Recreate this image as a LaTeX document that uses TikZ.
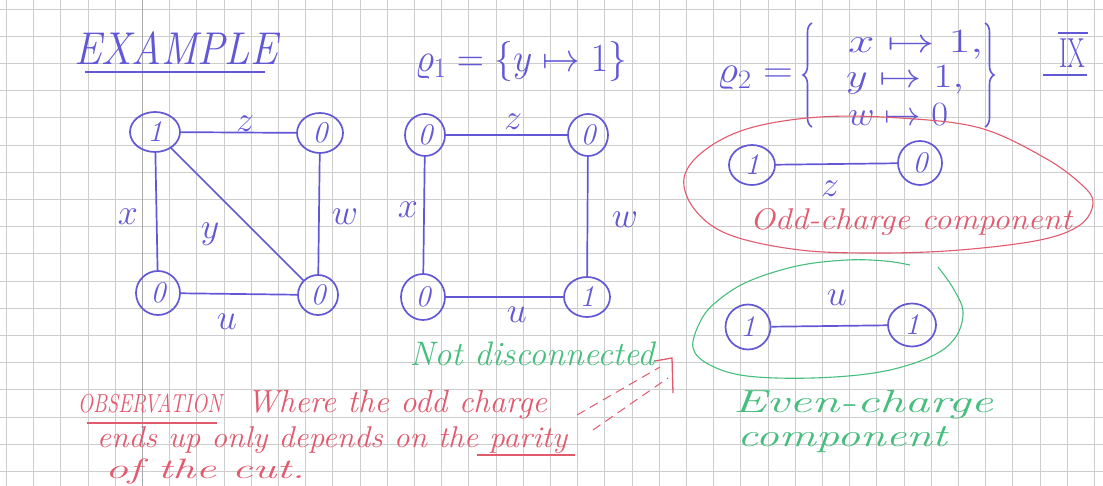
\RequirePackage{fix-cm}
\documentclass[tikz,border=0pt]{standalone}
\usepackage{graphicx}
\usetikzlibrary{shapes.geometric,decorations.pathreplacing}
\definecolor{ink}{RGB}{98,88,214}
\definecolor{redink}{RGB}{226,90,110}
\definecolor{greenink}{RGB}{70,190,125}
\definecolor{gridc}{RGB}{205,205,205}
\definecolor{gridd}{RGB}{170,170,170}
\newcommand{\hw}[3]{\resizebox{#1pt}{\height}{\fontsize{#2}{#2}\selectfont\itshape #3}}
\newcommand{\hm}[3]{\resizebox{#1pt}{\height}{\fontsize{#2}{#2}\selectfont #3}}
\tikzset{
  vert/.style={ellipse, draw=ink, line width=1.7pt, inner sep=0pt, text=ink,
    font=\fontsize{30}{30}\selectfont\itshape},
  edge/.style={draw=ink, line width=1.7pt},
  lbl/.style={text=ink, inner sep=0pt, font=\fontsize{36}{36}\selectfont},
  inktext/.style={text=ink, inner sep=0pt},
  redtext/.style={text=redink, inner sep=0pt},
  greentext/.style={text=greenink, inner sep=0pt},
}
\begin{document}
\begin{tikzpicture}[x=1pt,y=-1pt]
\useasboundingbox (0,0) rectangle (1103,486);
\fill[white] (0,0) rectangle (1103,486);
% grid paper
\foreach \i in {0,...,40} \draw[gridc, line width=0.9pt] ({6.5+27.2*\i},0) -- ({6.5+27.2*\i},486);
\foreach \j in {0,...,17} \draw[gridc, line width=0.9pt] (0,{9+27.2*\j}) -- (1103,{9+27.2*\j});
\draw[gridd, line width=1pt] (142.5,0) -- (142.5,486);

% title
\node[inktext] (title) at (176,48) {\hw{203}{46}{EXAMPLE}};
\draw[ink, line width=1.5pt] (85,72) -- (265,72);

% graph 1
\node[vert, minimum width=50pt, minimum height=40pt] (a1) at (155,132) {1};
\node[vert, minimum width=46pt, minimum height=40pt] (a2) at (320,133) {0};
\node[vert, minimum width=44pt, minimum height=44pt] (a3) at (158,293) {0};
\node[vert, minimum width=40pt, minimum height=40pt] (a4) at (318,295) {0};
\draw[edge] (a1) -- (a2);
\draw[edge] (a1) -- (a3);
\draw[edge] (a1) -- (a4);
\draw[edge] (a2) -- (a4);
\draw[edge] (a3) -- (a4);
\node[lbl] (az) at (245,124) {$z$};
\node[lbl] (ax) at (128,217) {$x$};
\node[lbl] (ay) at (210,234) {$y$};
\node[lbl] (aw) at (345,217) {$w$};
\node[lbl] (au) at (227,322) {$u$};

% rho1
\node[inktext] (rho1) at (521,62) {\hm{212}{40}{$\varrho_1 = \{y \mapsto 1\}$}};

% graph 2
\node[vert, minimum width=40pt, minimum height=42pt] (b1) at (425,135) {0};
\node[vert, minimum width=40pt, minimum height=42pt] (b2) at (588,135) {0};
\node[vert, minimum width=44pt, minimum height=46pt] (b3) at (423,297) {0};
\node[vert, minimum width=46pt, minimum height=40pt] (b4) at (587,297) {1};
\draw[edge] (b1) -- (b2);
\draw[edge] (b1) -- (b3);
\draw[edge] (b2) -- (b4);
\draw[edge] (b3) -- (b4);
\node[lbl] (bz) at (513,122) {$z$};
\node[lbl] (bx) at (408,210) {$x$};
\node[lbl] (bw) at (625,220) {$w$};
\node[lbl] (bu) at (517,315) {$u$};

% rho2
\node[inktext] (rho2) at (755,78) {\hm{76}{38}{$\varrho_2 =$}};
\draw[ink, line width=1.6pt, decorate, decoration={brace, amplitude=9pt}] (812,127) -- (812,23);
\node[inktext, anchor=west] (r2x) at (848,45) {\hm{135}{34}{$x \mapsto 1,$}};
\node[inktext, anchor=west] (r2y) at (846,80) {\hm{118}{34}{$y \mapsto 1,$}};
\node[inktext, anchor=west] (r2w) at (848,115) {\hm{100}{34}{$w \mapsto 0$}};
\draw[ink, line width=1.6pt, decorate, decoration={brace, amplitude=9pt}] (985,23) -- (985,127);
\node[inktext] (nine) at (1072,53) {\hm{26}{42}{IX}};
\draw[ink, line width=1.5pt] (1058,33) -- (1088,33);
\draw[ink, line width=1.5pt] (1043,75) -- (1087,75);

% odd-charge component
\draw[redink, line width=1.1pt] plot[smooth cycle, tension=0.6] coordinates {
  (684,178) (705,150) (750,128) (820,117) (900,118) (980,128) (1045,158)
  (1082,185) (1093,203) (1080,225) (1040,240) (960,250) (880,253) (800,250)
  (730,235) (695,210)};
\node[vert, minimum width=46pt, minimum height=40pt] (d1) at (752,165) {1};
\node[vert, minimum width=44pt, minimum height=44pt] (d2) at (920,163) {0};
\draw[edge] (d1) -- (d2);
\node[lbl] (dz) at (830,189) {$z$};
\node[redtext] (oddtxt) at (911,222) {\hw{322}{30}{Odd-charge component}};

% even-charge component
\draw[greenink, line width=1.1pt] plot[smooth, tension=0.6] coordinates {
  (938,267) (953,288) (963,312) (955,338) (930,357) (880,372) (813,378)
  (747,376) (710,365) (693,348) (700,322) (715,303) (747,282) (797,266)
  (847,260) (885,261) (910,265)};
\node[vert, minimum width=45pt, minimum height=45pt] (c1) at (748,327) {1};
\node[vert, minimum width=48pt, minimum height=43pt] (c2) at (912,325) {1};
\draw[edge] (c1) -- (c2);
\node[lbl] (cu) at (837,298) {$u$};
\node[greentext] (eventxt) at (863,405) {\hw{260}{32}{Even-charge}};
\node[greentext] (comptxt) at (842,440) {\hw{210}{32}{component}};

% not disconnected + arrow
\node[greentext] (notdisc) at (532,354) {\hw{245}{34}{Not disconnected}};
\coordinate (arrtip) at (672,358);
\coordinate (arrA) at (577,415);
\coordinate (arrB) at (593,430);
\coordinate (arrA2) at (660,367);
\coordinate (arrB2) at (668,378);
\draw[redink, line width=1pt, dash pattern=on 9pt off 6pt] (arrA) -- (arrA2);
\draw[redink, line width=1pt, dash pattern=on 9pt off 6pt] (arrB) -- (arrB2);
\draw[redink, line width=1.3pt] (655,361) -- (arrtip) -- (673,393);

% observation
\node[redtext] (obs) at (150,403) {\hw{144}{26}{OBSERVATION}};
\draw[redink, line width=1.3pt] (87,423) -- (217,423);
\node[redtext] (obs1) at (397,405) {\hw{300}{32}{Where the odd charge}};
\node[redtext] (obs2) at (332,440) {\hw{470}{30}{ends up only depends on the parity}};
\draw[redink, line width=1.3pt] (477,455) -- (575,455);
\node[redtext] (obs3) at (205,471) {\hw{200}{28}{of the cut.}};
\end{tikzpicture}
\end{document}
